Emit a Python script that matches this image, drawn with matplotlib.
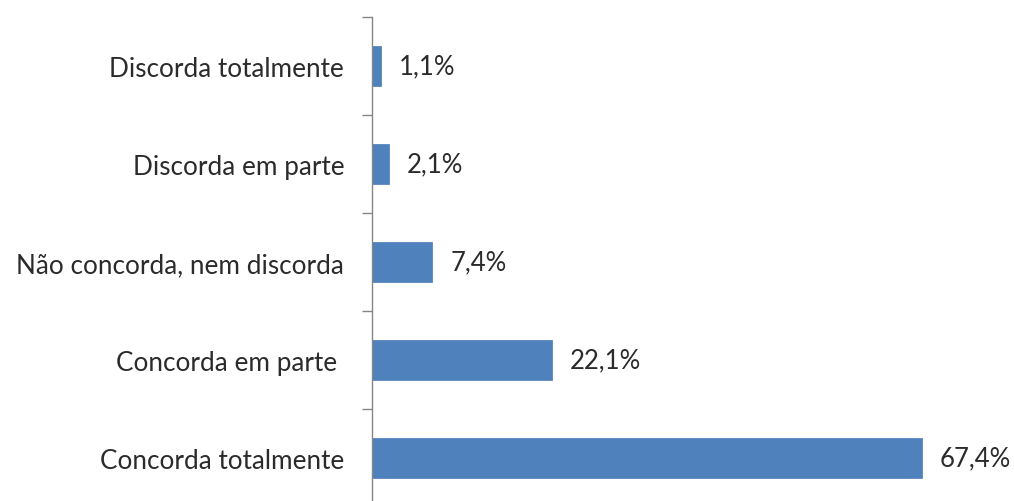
import matplotlib.pyplot as plt

categorias = ['Concorda totalmente', 'Concorda em parte ', 'Não concorda, nem discorda',
              'Discorda em parte', 'Discorda totalmente']
percentuais = [67.4, 22.1, 7.4, 2.1, 1.1]

plt.rcParams['font.family'] = ['Lato', 'DejaVu Sans']

fig = plt.figure(figsize=(10.14, 5.02), dpi=100)
ax = fig.add_axes([372 / 1014, -6 / 502, 636 / 1014, 490 / 502])

pos = list(range(len(categorias)))
barras = ax.barh(pos, percentuais, height=0.4, color='#4F81BD', edgecolor='#4A7BB5', linewidth=0.5)

for p, v in zip(pos, percentuais):
    ax.text(v + 2.2, p, f'{v:.1f}%'.replace('.', ','), va='center', ha='left',
            fontsize=18.5, color='#2b2b2b')

ax.set_xlim(0, 78)
ax.set_ylim(-0.5, len(categorias) - 0.5)

# ticks nos limites de cada categoria, rótulos no centro
ax.set_yticks([p - 0.5 for p in pos] + [len(categorias) - 0.5])
ax.set_yticklabels([])
ax.set_yticks(pos, minor=True)
ax.set_yticklabels(categorias, minor=True, fontsize=18.8, color='#2b2b2b')
ax.tick_params(axis='y', which='major', direction='out', length=7, color='#868686', width=1)
ax.tick_params(axis='y', which='minor', length=0, pad=20)

ax.set_xticks([])
for lado in ['top', 'right', 'bottom']:
    ax.spines[lado].set_visible(False)
ax.spines['left'].set_color('#868686')
ax.spines['left'].set_linewidth(1)

fig.savefig('out.png', dpi=100)
